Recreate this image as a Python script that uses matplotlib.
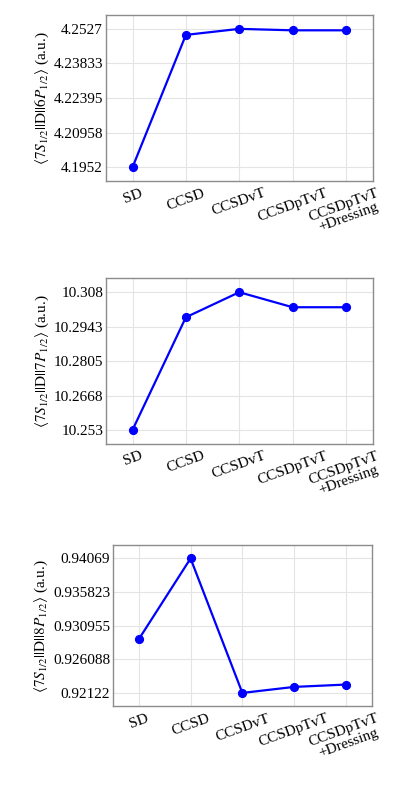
import numpy as np
import matplotlib

matplotlib.use('Agg')
import matplotlib.pyplot as plt
from matplotlib.ticker import FixedLocator, FuncFormatter

plt.rcParams['font.family'] = ['Liberation Serif', 'DejaVu Serif']
plt.rcParams['mathtext.fontset'] = 'stix'

methods = ['SD', 'CCSD', 'CCSDvT', 'CCSDpTvT', 'CCSDpTvT\n+Dressing']

# reduced matrix elements (a.u.)
d_6p = [4.1952, 4.2502, 4.2527, 4.2521, 4.2521]
d_7p = [10.253, 10.298, 10.308, 10.302, 10.302]
d_8p = [0.92899, 0.94069, 0.92122, 0.92209, 0.92243]

ylabels = [r'$\langle 7S_{1/2}||\mathrm{D}||6P_{1/2}\rangle$ (a.u.)',
           r'$\langle 7S_{1/2}||\mathrm{D}||7P_{1/2}\rangle$ (a.u.)',
           r'$\langle 7S_{1/2}||\mathrm{D}||8P_{1/2}\rangle$ (a.u.)']

positions = [[0.255, 0.771, 0.643, 0.210],
             [0.255, 0.439, 0.643, 0.209],
             [0.272, 0.107, 0.624, 0.204]]


def draw_panel(ax, values, label):
    x = np.arange(len(methods))
    ax.plot(x, values, '-o', color='#0000ff', lw=1.6, markersize=5.6)
    lo, hi = min(values), max(values)
    pad = (hi - lo) * 0.1
    ax.set_xlim(-0.5, len(methods) - 0.5)
    ax.set_ylim(lo - pad, hi + pad)
    ax.yaxis.set_major_locator(FixedLocator(np.linspace(lo, hi, 5)))
    ax.yaxis.set_major_formatter(FuncFormatter(lambda v, p: '%g' % (v + 1e-9)))
    ax.set_xticks(x)
    ax.set_xticklabels(methods, rotation=20, ha='center', fontsize=11,
                       linespacing=1.0)
    ax.tick_params(axis='y', labelsize=11, pad=2)
    ax.tick_params(axis='x', pad=4)
    ax.tick_params(length=0)
    ax.grid(color='#e4e4e4', lw=0.8)
    ax.set_axisbelow(True)
    for s in ax.spines.values():
        s.set_color('#8c8c8c')
        s.set_linewidth(1.0)
    ax.set_ylabel(label, fontsize=11, labelpad=2)


fig = plt.figure(figsize=(4.15, 7.91), dpi=100)
for pos, vals, lab in zip(positions, [d_6p, d_7p, d_8p], ylabels):
    ax = fig.add_axes(pos)
    draw_panel(ax, vals, lab)

fig.savefig('out.png', dpi=100)
